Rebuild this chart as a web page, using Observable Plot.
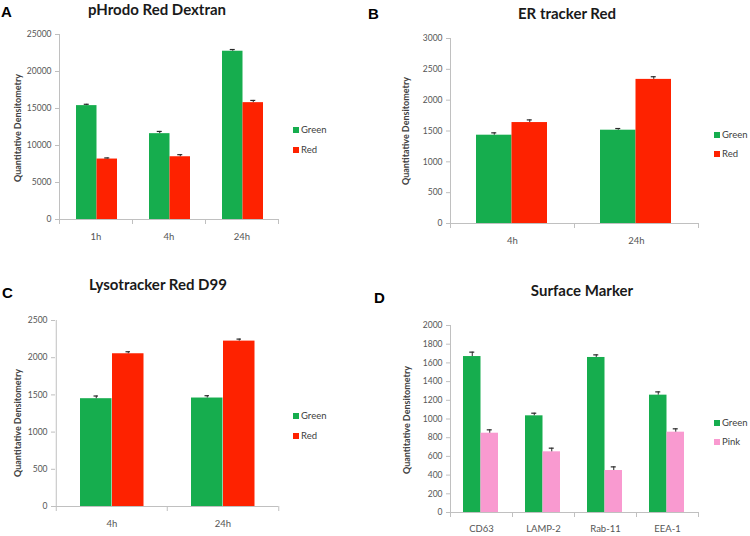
<!DOCTYPE html>
<html>
<head>
<meta charset="utf-8">
<script src="https://cdn.jsdelivr.net/npm/d3@7"></script>
<script src="https://cdn.jsdelivr.net/npm/@observablehq/plot@0.6"></script>
<style>
  html, body { margin: 0; padding: 0; background: #fff; }
  #root { position: relative; width: 750px; height: 536px; overflow: hidden; font-family: Lato, "Open Sans", sans-serif; }
  .panel { position: absolute; width: 375px; height: 268px; }
  .title { position: absolute; font: bold 15px Lato, "Open Sans", sans-serif; color: #1a1a1a; white-space: nowrap; transform: translate(-50%, -50%); }
  .letter { position: absolute; font: bold 15px "Liberation Sans", Arial, sans-serif; color: #000; }
  .ylab { position: absolute; font: bold 9px Lato, sans-serif; color: #404040; white-space: nowrap; transform: translate(-50%, -50%) rotate(-90deg); }
  .leg { position: absolute; font: 9.5px Lato, sans-serif; color: #404040; white-space: nowrap; }
  .leg span.sw { display: inline-block; width: 6px; height: 6px; margin-right: 2px; vertical-align: 0px; }
  svg [aria-label="y-axis tick"] { stroke: #bfbfbf; }
  svg [aria-label="y-axis tick label"] { fill: #555; font-size: 8.5px; }
  svg [aria-label="x-axis tick label"] { fill: #555; font-size: 9.5px; }
</style>
</head>
<body>
<div id="root"></div>
<script>
// ---- Data ----
const catsA = ["1h", "4h", "24h"];
const greenA = [15390, 11600, 22740];
const redA = [8170, 8480, 15790];
const greenErrA = [180, 300, 230];
const redErrA = [150, 280, 300];
const ticksA = [0, 5000, 10000, 15000, 20000, 25000];

const catsB = ["4h", "24h"];
const greenB = [1432, 1513];
const redB = [1637, 2337];
const greenErrB = [38, 27];
const redErrB = [43, 43];
const ticksB = [0, 500, 1000, 1500, 2000, 2500, 3000];

const catsC = ["4h", "24h"];
const greenC = [1449, 1458];
const redC = [2053, 2223];
const greenErrC = [36, 31];
const redErrC = [27, 27];
const ticksC = [0, 500, 1000, 1500, 2000, 2500];

const catsD = ["CD63", "LAMP-2", "Rab-11", "EEA-1"];
const greenD = [1668, 1034, 1658, 1255];
const pinkD = [848, 649, 449, 859];
const greenErrD = [47, 28, 28, 35];
const pinkErrD = [36, 39, 39, 36];
const ticksD = [0, 200, 400, 600, 800, 1000, 1200, 1400, 1600, 1800, 2000];

const seriesAB = ["Green", "Red"];
const seriesD = ["Green", "Pink"];
const titles = ["pHrodo Red Dextran", "ER tracker Red", "Lysotracker Red D99", "Surface Marker"];
const letters = ["A", "B", "C", "D"];
const yLabel = "Quantitative Densitometry";

// ---- Styles ----
const GREEN = "#16ad4e", RED = "#fe2200", PINK = "#f99ad0";
const AXIS = "#c0c0c0", ERR = "#2a2a2a";
const W = 375, H = 268;

function panel(cfg) {
  const {cats, s1, s2, e1, e2, ticks, c1, c2, ml, mr, mt, mb, gL, bwid} = cfg;
  const bw = (W - ml - mr) / cats.length;
  const plotH = H - mt - mb;
  const d1 = cats.map((c, i) => ({cat: c, v: s1[i], e: e1[i]}));
  const d2 = cats.map((c, i) => ({cat: c, v: s2[i], e: e2[i]}));
  const cen1 = gL + bwid / 2, cen2 = gL + bwid * 1.5;
  const capW = 5;
  const errMarks = (d, cen) => [
    Plot.ruleX(d, {x: "cat", y1: "v", y2: (r) => r.v + r.e, dx: cen - bw / 2, stroke: ERR, strokeWidth: 1}),
    Plot.tickY(d, {x: "cat", y: (r) => r.v + r.e, insetLeft: cen - capW / 2, insetRight: bw - cen - capW / 2, stroke: ERR, strokeWidth: 1.2})
  ];
  return Plot.plot({
    width: W, height: H,
    marginLeft: ml, marginRight: mr, marginTop: mt, marginBottom: mb,
    style: {fontFamily: "Lato, 'Open Sans', sans-serif", fontSize: "8.5px", color: "#555", background: "transparent"},
    x: {domain: cats, padding: 0, tickSize: 0, tickPadding: cfg.xpad, label: null},
    y: {domain: [0, ticks[ticks.length - 1]], ticks, tickFormat: (d) => String(d), tickSize: 4, tickPadding: 4, label: null},
    marks: [
      Plot.barY(d1, {x: "cat", y: "v", fill: c1, insetLeft: gL, insetRight: bw - gL - bwid}),
      Plot.barY(d2, {x: "cat", y: "v", fill: c2, insetLeft: gL + bwid, insetRight: bw - gL - 2 * bwid}),
      ...errMarks(d1, cen1),
      ...errMarks(d2, cen2),
      Plot.ruleY([0], {stroke: AXIS}),
      Plot.ruleX([cats[0]], {x: (d) => d, dx: -bw / 2, stroke: AXIS}),
      Plot.ruleX(cats, {x: (d) => d, dx: -bw / 2, insetTop: plotH, insetBottom: -5, stroke: AXIS}),
      Plot.ruleX([cats[cats.length - 1]], {x: (d) => d, dx: bw / 2, insetTop: plotH, insetBottom: -5, stroke: AXIS})
    ]
  });
}

const cfgs = [
  {cats: catsA, s1: greenA, s2: redA, e1: greenErrA, e2: redErrA, ticks: ticksA, c1: GREEN, c2: RED,
   ml: 59, mr: 97, mt: 34, mb: 49, gL: 17, bwid: 20.5, xpad: 14, left: 0, top: 0,
   names: seriesAB, title: [157, 9], letter: [1, 3], ylab: [16.5, 128], leg: [293, 124, 144]},
  {cats: catsB, s1: greenB, s2: redB, e1: greenErrB, e2: redErrB, ticks: ticksB, c1: GREEN, c2: RED,
   ml: 75, mr: 52, mt: 38, mb: 45, gL: 26, bwid: 35.5, xpad: 14, left: 375, top: 0,
   names: seriesAB, title: [567, 12.5], letter: [368, 5], ylab: [405, 131], leg: [714, 129, 148]},
  {cats: catsC, s1: greenC, s2: redC, e1: greenErrC, e2: redErrC, ticks: ticksC, c1: GREEN, c2: RED,
   ml: 55, mr: 97, mt: 52, mb: 30, gL: 24, bwid: 32, xpad: 14, left: 0, top: 268,
   names: seriesAB, title: [158, 284], letter: [2, 284], ylab: [16.5, 423], leg: [293, 410, 430]},
  {cats: catsD, s1: greenD, s2: pinkD, e1: greenErrD, e2: pinkErrD, ticks: ticksD, c1: GREEN, c2: PINK,
   ml: 75, mr: 52, mt: 57, mb: 24, gL: 13, bwid: 17.5, xpad: 13, left: 375, top: 268,
   names: seriesD, title: [582, 290], letter: [374, 289], ylab: [406, 420], leg: [714, 417, 436]}
];

const root = document.getElementById("root");
cfgs.forEach((cfg, i) => {
  const div = document.createElement("div");
  div.className = "panel";
  div.style.left = cfg.left + "px";
  div.style.top = cfg.top + "px";
  div.appendChild(panel(cfg));
  root.appendChild(div);

  const t = document.createElement("div");
  t.className = "title";
  t.textContent = titles[i];
  t.style.left = cfg.title[0] + "px";
  t.style.top = cfg.title[1] + "px";
  root.appendChild(t);

  const l = document.createElement("div");
  l.className = "letter";
  l.textContent = letters[i];
  l.style.left = cfg.letter[0] + "px";
  l.style.top = cfg.letter[1] + "px";
  root.appendChild(l);

  const y = document.createElement("div");
  y.className = "ylab";
  y.textContent = yLabel;
  y.style.left = cfg.ylab[0] + "px";
  y.style.top = cfg.ylab[1] + "px";
  root.appendChild(y);

  [cfg.c1, cfg.c2].forEach((c, k) => {
    const g = document.createElement("div");
    g.className = "leg";
    g.style.left = cfg.leg[0] + "px";
    g.style.top = cfg.leg[1 + k] + "px";
    g.innerHTML = `<span class="sw" style="background:${c}"></span>`;
    g.appendChild(document.createTextNode(cfg.names[k]));
    root.appendChild(g);
  });
});
</script>
</body>
</html>
